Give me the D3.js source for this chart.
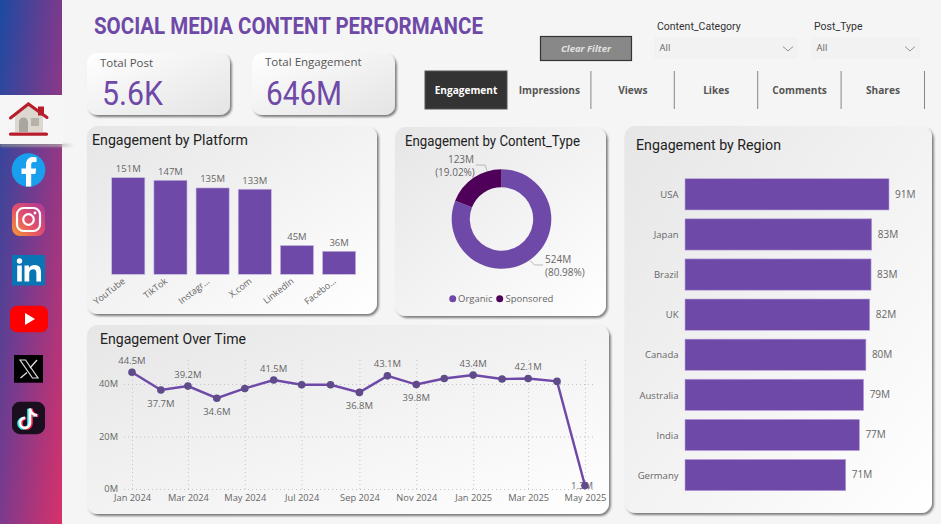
<!DOCTYPE html>
<html><head><meta charset="utf-8">
<script src="https://cdn.jsdelivr.net/npm/d3@7"></script>
<style>
html,body{margin:0;padding:0;background:#f5f5f5;overflow:hidden}
svg{display:block}
.din{font-family:Roboto,sans-serif}
.seg,.tick text{font-family:"Open Sans",sans-serif}
</style></head><body>
<svg id="c" width="941" height="524"></svg>
<script>
// ---- data ----
const platforms = ["YouTube","TikTok","Instagram","X.com","LinkedIn","Facebook"];
const platformTickLabels = ["YouTube","TikTok","Instagr...","X.com","LinkedIn","Facebo..."];
const platformValues = [151,147,135,133,45,36];
const regions = ["USA","Japan","Brazil","UK","Canada","Australia","India","Germany"];
const regionValues = [91,83.3,83,82.4,80.7,79.7,77.8,71.7];
const regionLabels = ["91M","83M","83M","82M","80M","79M","77M","71M"];
const contentTypes = ["Organic","Sponsored"];
const contentValues = [524,123];
const contentPercents = ["80.98%","19.02%"];
const months = ["2024-01","2024-02","2024-03","2024-04","2024-05","2024-06","2024-07","2024-08","2024-09","2024-10","2024-11","2024-12","2025-01","2025-02","2025-03","2025-04","2025-05"];
const monthValues = [44.5,37.7,39.2,34.6,38.3,41.5,39.7,39.7,36.8,43.1,39.8,42.1,43.4,41.9,42.1,41.0,1.3];
const labelledMonths = ["2024-01","2024-02","2024-03","2024-04","2024-06","2024-09","2024-10","2024-11","2025-01","2025-03","2025-05"];
const monthTicks = ["2024-01","2024-03","2024-05","2024-07","2024-09","2024-11","2025-01","2025-03","2025-05"];
const yTicks = [0,20,40];
const tabs = ["Engagement","Impressions","Views","Likes","Comments","Shares"];
const kpis = [["Total Post","5.6K"],["Total Engagement","646M"]];

// ---- setup ----
const PURPLE="#6f49a8", DARK="#4f0058", GREY="#666";
const svg=d3.select("#c");
const defs=svg.append("defs");
function grad(id,stops,x1,y1,x2,y2){
  const g=defs.append("linearGradient").attr("id",id).attr("x1",x1).attr("y1",y1).attr("x2",x2).attr("y2",y2);
  stops.forEach(s=>g.append("stop").attr("offset",s[0]).attr("stop-color",s[1]));
}
grad("side",[[0,"#1b4aa2"],[.5,"#7c3a8c"],[1,"#d8316a"]],0,0,1,1);
grad("cardDark",[[0,"#e6e6e6"],[1,"#ffffff"]],0,0,1,1);
grad("cardLight",[[0,"#ffffff"],[1,"#e4e4e4"]],0,0,1,1);
grad("insta",[[0,"#f79a2c"],[.45,"#e4506a"],[1,"#a8389c"]],0,1,1,0);
grad("shadow",[[0,"#888"],[.8,"#aaa"],[1,"#f5f5f5"]],0,0,1,0);
const f=defs.append("filter").attr("id","ds").attr("x","-5%").attr("y","-5%").attr("width","110%").attr("height","112%");
f.append("feDropShadow").attr("dx",1.8).attr("dy",2).attr("stdDeviation",1.2).attr("flood-color","#000").attr("flood-opacity",.5);
defs.append("filter").attr("id","blur").attr("x","-5%").attr("y","-200%").attr("width","110%").attr("height","500%")
  .append("feGaussianBlur").attr("stdDeviation",1);

function text(t,x,y,o={}){
  const s=svg.append("text").text(t).attr("x",x).attr("y",y).attr("dominant-baseline","middle")
    .attr("class",o.cls||"seg").attr("font-size",o.size||10).attr("fill",o.fill||GREY)
    .attr("text-anchor",o.anchor||"start").attr("font-weight",o.weight||400)
    .attr("font-style",o.style||"normal");
  if(o.w) s.attr("textLength",o.w).attr("lengthAdjust","spacingAndGlyphs");
  return s;
}
function card(x0,y0,x1,y1,fill,r=11){
  svg.append("rect").attr("x",x0).attr("y",y0).attr("width",x1-x0).attr("height",y1-y0).attr("rx",r)
    .attr("fill",`url(#${fill})`).attr("filter","url(#ds)");
}

// ---- sidebar ----
svg.append("rect").attr("width",62).attr("height",524).attr("fill","url(#side)");
svg.append("rect").attr("x",0).attr("y",144).attr("width",74).attr("height",2.5).attr("fill","url(#shadow)").attr("filter","url(#blur)");
svg.append("rect").attr("x",0).attr("y",95).attr("width",63).attr("height",49).attr("fill","#f6f6f6");
// home
svg.append("path").attr("d","M15 116L28.5 105L43 116V132H15Z").attr("fill","#dcd8cf");
svg.append("path").attr("d","M19 132V122a4.5 4.5 0 0 1 9 0V132Z").attr("fill","#a9a69f");
svg.append("rect").attr("x",31).attr("y",118).attr("width",8).attr("height",8).attr("fill","#b5b2aa");
svg.append("rect").attr("x",38).attr("y",106.5).attr("width",6).attr("height",9).attr("fill","#b81d2c");
svg.append("path").attr("d","M10.5 118L28.4 104L47 117.5").attr("fill","none").attr("stroke","#b81d2c").attr("stroke-width",3).attr("stroke-linecap","round");
svg.append("rect").attr("x",9).attr("y",132.5).attr("width",39).attr("height",3.2).attr("rx",1.5).attr("fill","#b81d2c");
// facebook
svg.append("circle").attr("cx",28.5).attr("cy",170).attr("r",16.8).attr("fill","#18a0ee");
svg.append("path").attr("d","M26 186.5V174H21.5V168.5H26V164.5C26 159.5 29 157 33 157C34.8 157 36.5 157.3 36.5 157.3V162H34C31.8 162 31.2 163.2 31.2 164.8V168.5H36.2L35.4 174H31.2V186.5Z").attr("fill","#fff");
// instagram
svg.append("rect").attr("x",12).attr("y",203).attr("width",33).attr("height",33).attr("rx",8).attr("fill","url(#insta)");
svg.append("rect").attr("x",17).attr("y",208).attr("width",23).attr("height",23).attr("rx",6.5).attr("fill","none").attr("stroke","#fff").attr("stroke-width",2.2);
svg.append("circle").attr("cx",28.5).attr("cy",219.5).attr("r",5.3).attr("fill","none").attr("stroke","#fff").attr("stroke-width",2.2);
svg.append("circle").attr("cx",35).attr("cy",213).attr("r",1.4).attr("fill","#fff");
// linkedin
svg.append("rect").attr("x",12).attr("y",255).attr("width",33).attr("height",30.5).attr("fill","#0a75b5");
svg.append("circle").attr("cx",19.5).attr("cy",261).attr("r",2.7).attr("fill","#fff");
svg.append("rect").attr("x",17.2).attr("y",265.5).attr("width",4.6).attr("height",16).attr("fill","#fff");
svg.append("path").attr("d","M24.5 265.5H29V268C30 266 32 265 34.5 265C39.5 265 41 268 41 272.5V281.5H36.4V273.5C36.4 271 35.6 269.3 33.4 269.3C30.6 269.3 29.2 271 29.2 273.6V281.5H24.5Z").attr("fill","#fff");
// youtube
svg.append("rect").attr("x",10).attr("y",305.7).attr("width",38).attr("height",26.5).attr("rx",7).attr("fill","#fe0000");
svg.append("path").attr("d","M25 313L35 319L25 325Z").attr("fill","#fff");
// x
svg.append("rect").attr("x",14).attr("y",355).attr("width",29).attr("height",27.7).attr("fill","#000");
svg.append("path").attr("d","M20 360H25.5L38 378H32.5Z").attr("fill","none").attr("stroke","#ddd").attr("stroke-width",1.2);
svg.append("path").attr("d","M37 360L30 368M27 372.5L20.5 378").attr("fill","none").attr("stroke","#ddd").attr("stroke-width",1.4);
// tiktok
svg.append("rect").attr("x",12).attr("y",401.7).attr("width",33).attr("height",32.5).attr("rx",8).attr("fill","#1b0f1f");
const note="M30 408V422.5A5 5 0 1 1 25 417.5M30 408C30.5 412 33 414.5 37 415";
svg.append("path").attr("d",note).attr("transform","translate(-1.3,.8)").attr("fill","none").attr("stroke","#25f4ee").attr("stroke-width",3);
svg.append("path").attr("d",note).attr("transform","translate(1.3,.8)").attr("fill","none").attr("stroke","#fe2c55").attr("stroke-width",3);
svg.append("path").attr("d",note).attr("transform","translate(0,.4)").attr("fill","none").attr("stroke","#fff").attr("stroke-width",2.6);

// ---- header ----
text("SOCIAL MEDIA CONTENT PERFORMANCE",94,28,{cls:"din",size:23,weight:700,fill:PURPLE,w:389});
svg.append("rect").attr("x",540.5).attr("y",36.5).attr("width",91).attr("height",24).attr("fill","#888").attr("stroke","#333").attr("stroke-width",1.2);
text("Clear Filter",586,49,{size:9.5,weight:700,style:"italic",fill:"#e2e2e2",anchor:"middle"});
[[657,"Content_Category",655,142],[814,"Post_Type",812,107]].forEach(d=>{
  text(d[1],d[0],27,{cls:"din",size:10.5,fill:"#333"});
  svg.append("rect").attr("x",d[2]).attr("y",38).attr("width",d[3]).attr("height",20).attr("fill","#f2f2f2").attr("stroke","#f0f0f0");
  text("All",d[2]+4.5,48.5,{size:9.5,fill:"#666"});
  const cx=d[2]+d[3]-9;
  svg.append("path").attr("d",`M${cx-5} 46.5L${cx} 51L${cx+5} 46.5`).attr("fill","none").attr("stroke","#888").attr("stroke-width",.9);
});
// KPI
[[87,230,100,102,61],[252,395,265,266,76]].forEach((d,i)=>{
  card(d[0],53,d[1],115,"cardLight",10);
  text(kpis[i][0],d[2],64-(i?1:0),{size:11.5,fill:"#555"});
  text(kpis[i][1],d[3],96,{cls:"din",size:33,fill:PURPLE,w:d[4]});
});
// Tabs
const tabX=d3.scalePoint().domain(tabs).range([466,883]);
svg.append("rect").attr("x",425).attr("y",71).attr("width",82).attr("height",38).attr("fill","#333").attr("stroke","#555");
tabs.forEach((t,i)=>{
  text(t,tabX(t),91,{size:10.1,weight:700,anchor:"middle",fill:i?"#555":"#fff"});
  if(i) svg.append("line").attr("x1",tabX(t)+41.5).attr("x2",tabX(t)+41.5).attr("y1",71).attr("y2",109).attr("stroke","#888").attr("stroke-width",1);
});

// ---- cards ----
card(87,126,377,314,"cardDark");
card(395,127,606,316,"cardDark");
card(87,325,609,514,"cardDark");
card(624.5,126,932,513,"cardDark");
const tOpt=w=>({cls:"din",size:14,fill:"#222",w});
text("Engagement by Platform",92,141,tOpt(156));
text("Engagement by Content_Type",405,142,tOpt(175));
text("Engagement Over Time",100,340,tOpt(146));
text("Engagement by Region",636,146,tOpt(145));

// ---- platform bars ----
const px=d3.scaleBand().domain(platforms).range([107.2,360.2]).paddingInner(.214).paddingOuter(.107);
const py=d3.scaleLinear().domain([0,151]).range([274.3,177.7]);
svg.append("g").selectAll("rect").data(platforms).join("rect")
  .attr("x",d=>px(d)).attr("width",px.bandwidth())
  .attr("y",(d,i)=>py(platformValues[i])).attr("height",(d,i)=>py(0)-py(platformValues[i]))
  .attr("fill",PURPLE).attr("stroke","#c9bce2").attr("stroke-width",.6);
svg.append("g").selectAll("text").data(platforms).join("text")
  .attr("class","seg").attr("font-size",9.5).attr("fill",GREY).attr("text-anchor","middle")
  .attr("x",d=>px(d)+px.bandwidth()/2).attr("y",(d,i)=>py(platformValues[i])-5.5)
  .text((d,i)=>platformValues[i]+"M");
const pAxis=svg.append("g").attr("transform","translate(0,274.3)")
  .call(d3.axisBottom(px).tickSize(0).tickFormat((d,i)=>platformTickLabels[i]));
pAxis.select(".domain").remove();
pAxis.selectAll("text").attr("font-size",9).attr("fill",GREY).attr("text-anchor","end").attr("dy",0)
  .attr("transform","translate(-2.5,8) rotate(-38)").attr("y",0).attr("x",0);

// ---- donut ----
const dc=[501.5,219];
const pie=d3.pie().sort(null)(contentValues);
const arc=d3.arc().innerRadius(31.7).outerRadius(49.8);
const dg=svg.append("g").attr("transform",`translate(${dc})`);
dg.selectAll("path").data(pie).join("path").attr("d",arc).attr("fill",(d,i)=>i?DARK:PURPLE);
svg.append("path").attr("d","M476 165H485L487 170.5").attr("fill","none").attr("stroke","#aaa").attr("stroke-width",.8);
svg.append("path").attr("d","M530 260.5L534.5 265H543").attr("fill","none").attr("stroke","#aaa").attr("stroke-width",.8);
text(contentValues[1]+"M",461,160,{size:10,anchor:"middle"});
text("("+contentPercents[1]+")",455,173.5,{size:10,anchor:"middle"});
text(contentValues[0]+"M",545,260.5,{size:10});
text("("+contentPercents[0]+")",545,273.5,{size:10});
[[452.7,458],[499.7,505.5]].forEach((d,i)=>{
  svg.append("circle").attr("cx",d[0]).attr("cy",298.7).attr("r",3.5).attr("fill",i?DARK:PURPLE);
  text(contentTypes[i],d[1],299,{size:9.5});
});

// ---- region bars ----
const rx=d3.scaleLinear().domain([0,91]).range([685,889]);
const ry=d3.scaleBand().domain(regions).range([174.3,495.1]).paddingInner(.22).paddingOuter(.11);
svg.append("g").selectAll("rect").data(regions).join("rect")
  .attr("x",rx(0)).attr("y",d=>ry(d)).attr("height",ry.bandwidth())
  .attr("width",(d,i)=>rx(regionValues[i])-rx(0)).attr("fill",PURPLE).attr("stroke","#b9a6da").attr("stroke-width",.6);
svg.append("g").selectAll("text").data(regions).join("text")
  .attr("class","seg").attr("font-size",10).attr("fill",GREY).attr("dominant-baseline","middle")
  .attr("x",(d,i)=>rx(regionValues[i])+6).attr("y",d=>ry(d)+ry.bandwidth()/2+.7)
  .text((d,i)=>regionLabels[i]);
const rAxis=svg.append("g").attr("transform","translate(678.5,.7)").call(d3.axisLeft(ry).tickSize(0).tickPadding(0));
rAxis.select(".domain").remove();
rAxis.selectAll("text").attr("font-size",9.5).attr("fill",GREY);

// ---- line ----
const parse=d3.utcParse("%Y-%m");
const lx=d3.scaleUtc().domain([parse(months[0]),parse(months[months.length-1])]).range([132,585]);
const ly=d3.scaleLinear().domain([0,50]).range([489,357.75]);
const xA=svg.append("g").attr("transform","translate(0,489)")
  .call(d3.axisBottom(lx).tickValues(monthTicks.map(parse)).tickFormat(d3.utcFormat("%b %Y")).tickSize(-131).tickPadding(5));
const yA=svg.append("g").attr("transform","translate(124,0)")
  .call(d3.axisLeft(ly).tickValues(yTicks).tickFormat(d=>d+"M").tickSize(-470).tickPadding(6));
[xA,yA].forEach(a=>{
  a.select(".domain").remove();
  a.selectAll("line").attr("stroke","#c4c4c4").attr("stroke-dasharray","1,3");
  a.selectAll("text").attr("font-size",9.3).attr("fill",GREY);
});
const pts=months.map((m,i)=>({m,v:monthValues[i],d:parse(m),i}));
svg.append("path").datum(pts).attr("fill","none").attr("stroke",PURPLE).attr("stroke-width",2.4)
  .attr("d",d3.line().x(d=>lx(d.d)).y(d=>ly(d.v)));
const labelled=pts.filter(p=>labelledMonths.includes(p.m));
svg.append("g").selectAll("text").data(labelled).join("text")
  .attr("class","seg").attr("font-size",9.5).attr("fill",GREY).attr("text-anchor","middle").attr("dominant-baseline","middle")
  .attr("x",d=>lx(d.d)-(d.v<5?3:0))
  .attr("y",d=>d.v<5?ly(d.v)+.5:(d.i===0||d.v>pts[d.i-1].v)?ly(d.v)-11:ly(d.v)+14)
  .text(d=>d.v+"M");
svg.append("g").selectAll("circle").data(pts).join("circle")
  .attr("cx",d=>lx(d.d)).attr("cy",d=>ly(d.v)).attr("r",3.8).attr("fill","#5f4a8a");
</script>
</body></html>
